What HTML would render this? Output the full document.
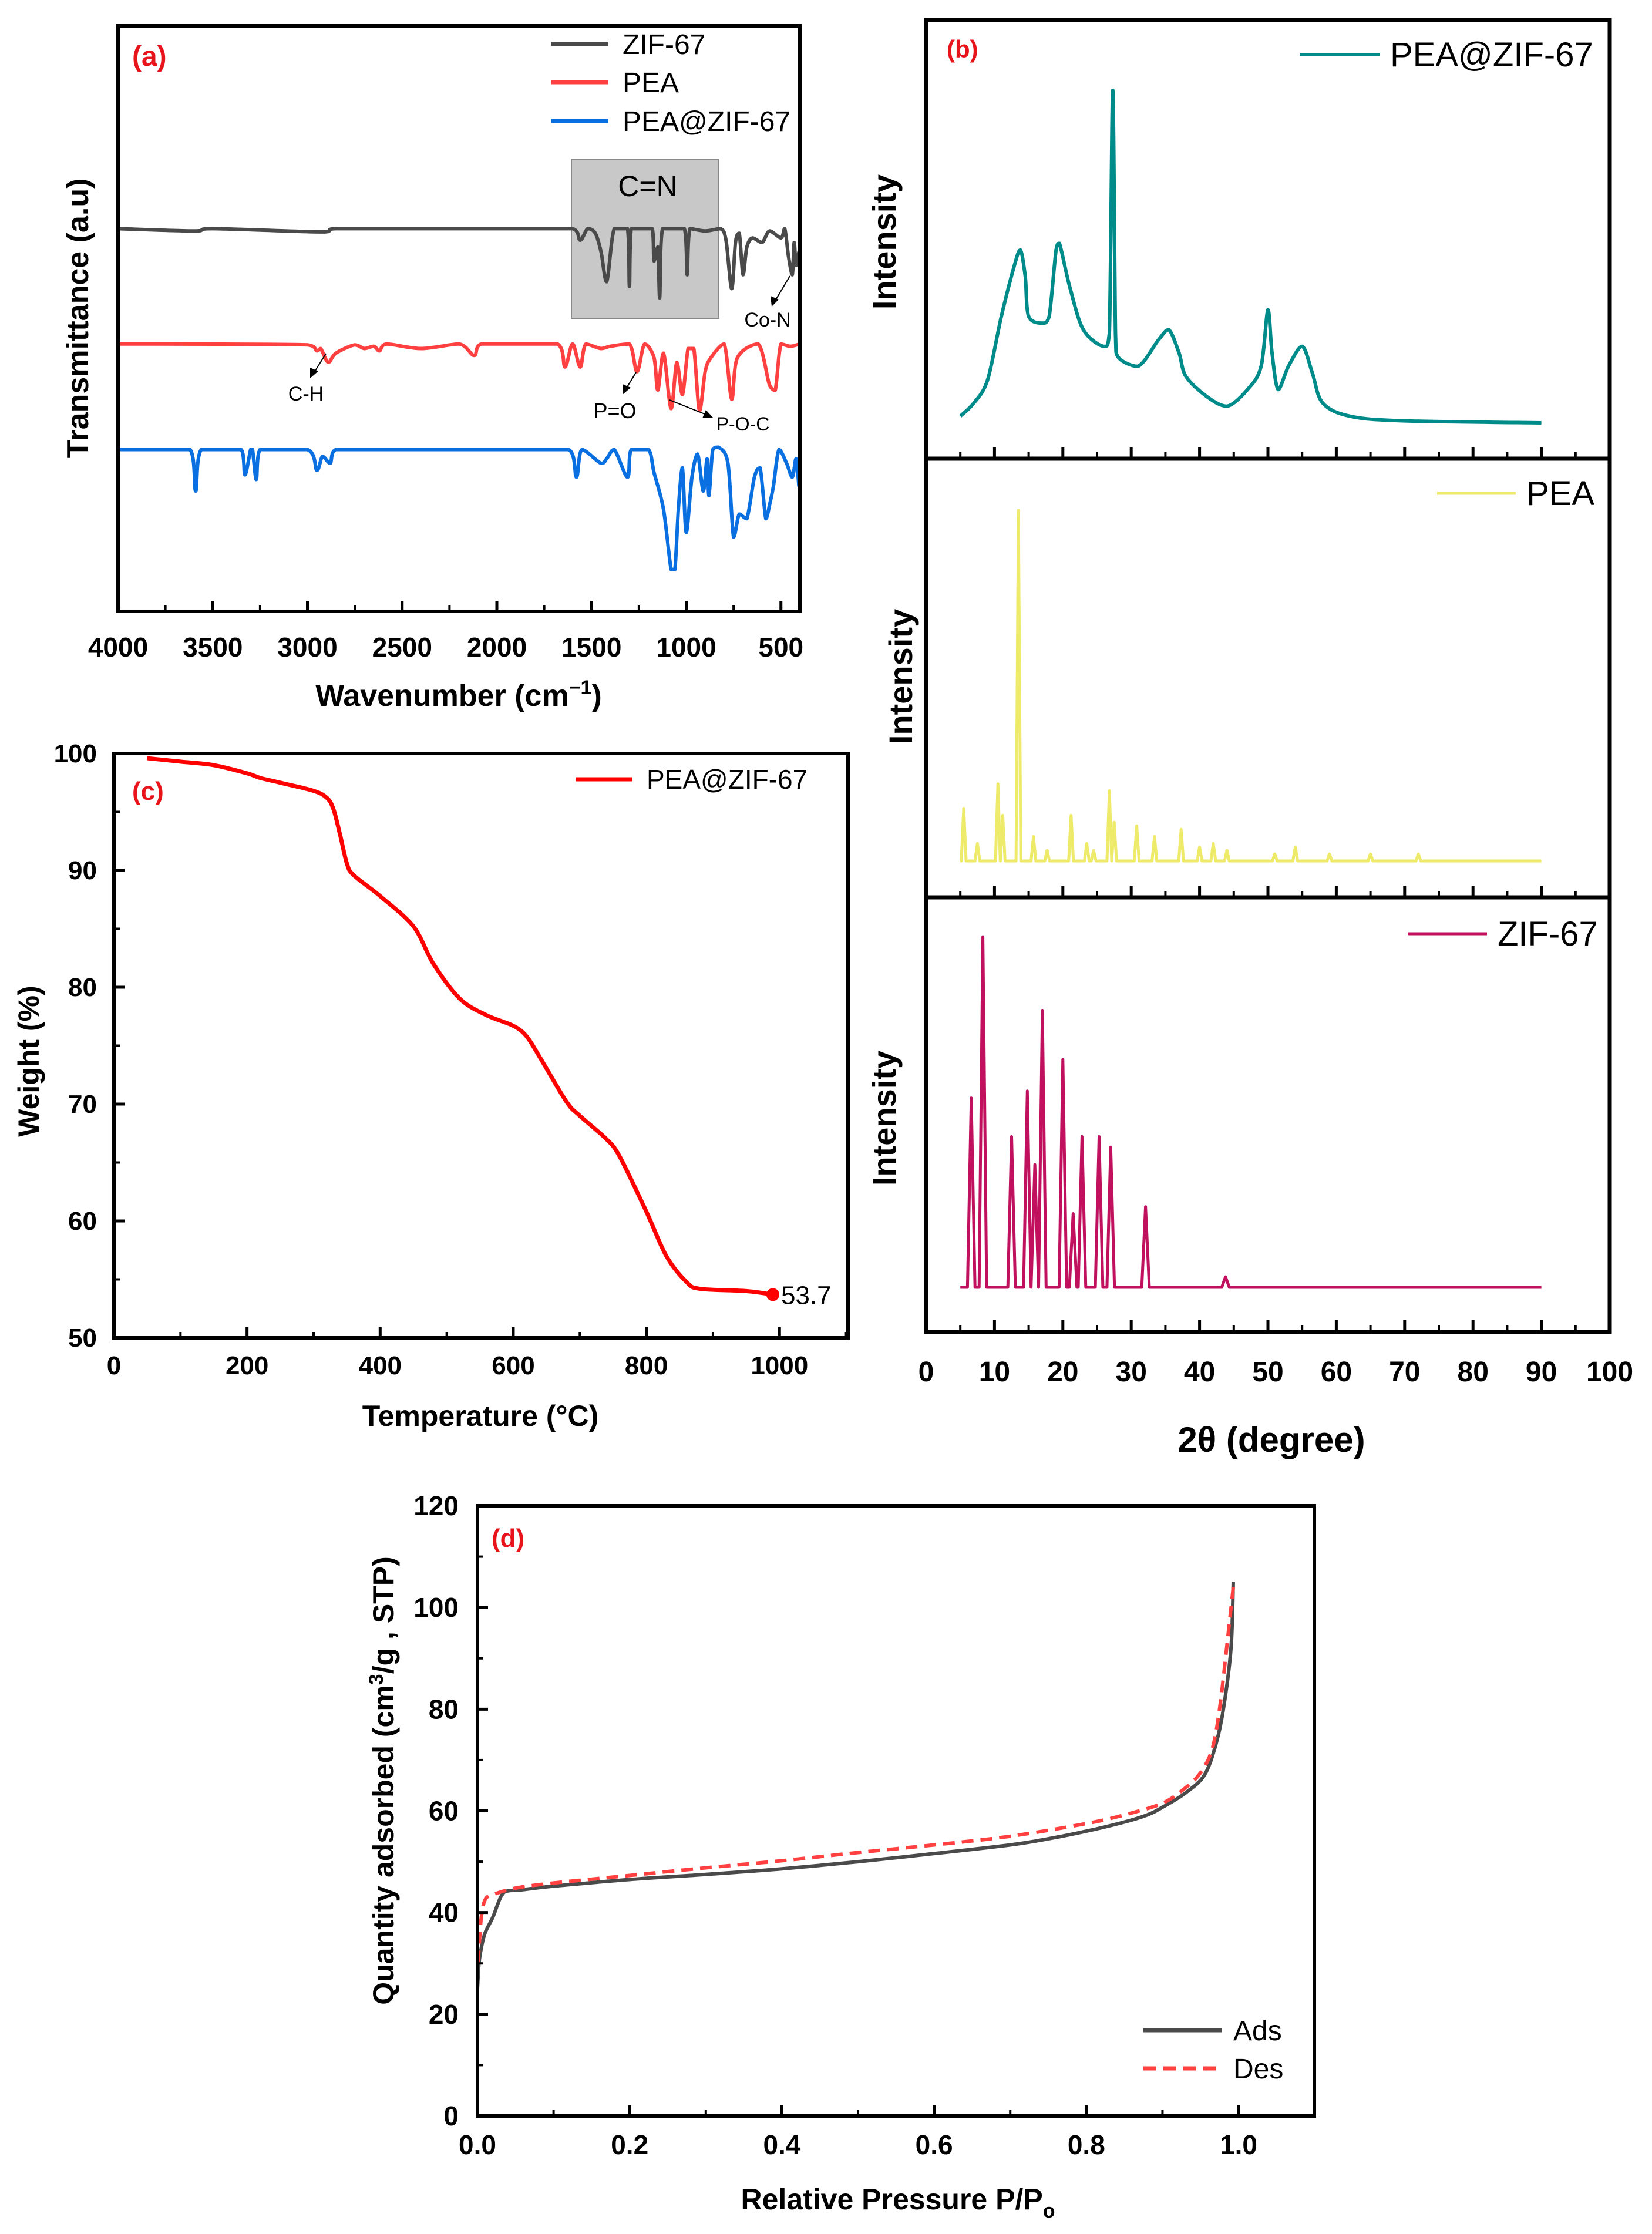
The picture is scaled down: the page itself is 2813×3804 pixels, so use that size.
<!DOCTYPE html>
<html><head><meta charset="utf-8"><style>
html,body{margin:0;padding:0;background:#fff;}
svg{display:block;font-family:"Liberation Sans",Arial,sans-serif;}
.b{font-weight:bold;}
</style></head><body>
<svg id="fig" width="2813" height="3804" viewBox="0 0 2813 3804" xmlns="http://www.w3.org/2000/svg">
<g id="pa">
 <rect x="973" y="271" width="251" height="271" fill="#c8c8c8" stroke="#888" stroke-width="2"/>
 <text x="1103" y="334" font-size="50" text-anchor="middle">C=N</text>
 <g id="pa-curves"></g>
 <rect x="201" y="44" width="1161" height="997" fill="none" stroke="#000" stroke-width="6"/>
 <g id="pa-ticks"></g>
 <text x="225" y="112" font-size="48" fill="#e8141c" class="b">(a)</text>
 <line x1="939" y1="75" x2="1036" y2="75" stroke="#4a4a4a" stroke-width="7"/>
 <text x="1060" y="92" font-size="48">ZIF-67</text>
 <line x1="939" y1="140" x2="1036" y2="140" stroke="#ff4040" stroke-width="7"/>
 <text x="1060" y="157" font-size="48">PEA</text>
 <line x1="939" y1="206" x2="1036" y2="206" stroke="#0a6fe0" stroke-width="7"/>
 <text x="1060" y="223" font-size="48">PEA@ZIF-67</text>
 <text x="1307" y="556" font-size="34" text-anchor="middle">Co-N</text>
 <line x1="1345" y1="470" x2="1320" y2="512" stroke="#000" stroke-width="2"/>
 <polygon points="1314,522 1312,504 1326,510" fill="#000"/>
 <text x="521" y="682" font-size="34" text-anchor="middle">C-H</text>
 <line x1="555" y1="602" x2="535" y2="634" stroke="#000" stroke-width="2"/>
 <polygon points="528,644 528,626 542,632" fill="#000"/>
 <text x="1047" y="712" font-size="36" text-anchor="middle">P=O</text>
 <line x1="1083" y1="634" x2="1066" y2="662" stroke="#000" stroke-width="2"/>
 <polygon points="1060,672 1060,654 1074,660" fill="#000"/>
 <text x="1265" y="733" font-size="32" text-anchor="middle">P-O-C</text>
 <line x1="1140" y1="681" x2="1200" y2="705" stroke="#000" stroke-width="2"/>
 <polygon points="1214,711 1196,712 1202,698" fill="#000"/>
 <text transform="translate(150,542) rotate(-90)" font-size="52" class="b" text-anchor="middle">Transmittance (a.u)</text>
 <text x="781" y="1202" font-size="52" class="b" text-anchor="middle">Wavenumber (cm<tspan dy="-20" font-size="34">−1</tspan><tspan dy="20">)</tspan></text>
</g>
<g id="pb">
 <g id="pb-curves"></g>
 <rect x="1577" y="34" width="1164" height="2234" fill="none" stroke="#000" stroke-width="7"/>
 <line x1="1577" y1="781" x2="2741" y2="781" stroke="#000" stroke-width="7"/>
 <line x1="1577" y1="1528" x2="2741" y2="1528" stroke="#000" stroke-width="7"/>
 <g id="pb-ticks"></g>
 <text x="1612" y="98" font-size="42" fill="#e8141c" class="b">(b)</text>
 <line x1="2213" y1="93" x2="2349" y2="93" stroke="#008b8b" stroke-width="5"/>
 <text x="2367" y="113" font-size="58">PEA@ZIF-67</text>
 <line x1="2447" y1="840" x2="2581" y2="840" stroke="#eeea6a" stroke-width="5"/>
 <text x="2599" y="860" font-size="58">PEA</text>
 <line x1="2398" y1="1590" x2="2532" y2="1590" stroke="#c0105e" stroke-width="5"/>
 <text x="2550" y="1610" font-size="58">ZIF-67</text>
 <text transform="translate(1525,412) rotate(-90)" font-size="56" class="b" text-anchor="middle">Intensity</text>
 <text transform="translate(1553,1152) rotate(-90)" font-size="56" class="b" text-anchor="middle">Intensity</text>
 <text transform="translate(1525,1904) rotate(-90)" font-size="56" class="b" text-anchor="middle">Intensity</text>
 <text x="2165" y="2472" font-size="60" class="b" text-anchor="middle">2θ (degree)</text>
</g>
<g id="pc">
 <g id="pc-curves"></g>
 <rect x="194" y="1283" width="1250" height="995" fill="none" stroke="#000" stroke-width="6"/>
 <g id="pc-ticks"></g>
 <text x="225" y="1362" font-size="44" fill="#e8141c" class="b">(c)</text>
 <line x1="980" y1="1327" x2="1077" y2="1327" stroke="#ff0000" stroke-width="7"/>
 <text x="1101" y="1343" font-size="46">PEA@ZIF-67</text>
 <text transform="translate(66,1807) rotate(-90)" font-size="50" class="b" text-anchor="middle">Weight (%)</text>
 <text x="818" y="2428" font-size="50" class="b" text-anchor="middle">Temperature (°C)</text>
</g>
<g id="pd">
 <g id="pd-curves"></g>
 <rect x="813" y="2564" width="1425" height="1039" fill="none" stroke="#000" stroke-width="6"/>
 <g id="pd-ticks"></g>
 <text x="837" y="2634" font-size="44" fill="#e8141c" class="b">(d)</text>
 <line x1="1947" y1="3457" x2="2080" y2="3457" stroke="#4a4a4a" stroke-width="7"/>
 <text x="2100" y="3474" font-size="48">Ads</text>
 <line x1="1947" y1="3522" x2="2080" y2="3522" stroke="#ff4040" stroke-width="7" stroke-dasharray="22,12"/>
 <text x="2100" y="3539" font-size="48">Des</text>
 <text transform="translate(670,3032) rotate(-90)" font-size="50" class="b" text-anchor="middle">Quantity adsorbed (cm<tspan dy="-18" font-size="34">3</tspan><tspan dy="18">/g , STP)</tspan></text>
 <text x="1529" y="3762" font-size="50" class="b" text-anchor="middle">Relative Pressure P/P<tspan dy="14" font-size="34">o</tspan></text>
</g>
</svg>
<script>
// ---------- Panel (a) FTIR data ----------
const zifWn = [4000,3600,3500,2920,2850,1600,1560,1520,1480,1450,1420,1380,1310,1300,1290,1180,1170,1150,1140,1125,1010,995,980,900,820,790,760,740,720,700,680,650,600,560,500,480,460,440,430,420,405];
const zifT  = [0,-0.05,0,-0.07,0,0,-0.25,0,-0.1,-0.5,-1.15,0,0,-1.25,0,0,-0.7,-0.4,-1.5,0,0,-1.0,0,-0.05,0,-0.25,-1.3,-0.3,-0.1,-1.0,-0.4,-0.2,-0.3,-0.05,-0.2,0,-0.6,-1.0,-0.3,-0.8,-0.5];
const peaWn = [4000,3000,2950,2930,2890,2850,2750,2700,2650,2620,2580,2400,2200,2120,2080,1680,1640,1600,1560,1530,1450,1400,1300,1260,1220,1170,1150,1120,1080,1050,1020,990,960,930,900,870,800,760,730,620,560,530,500,450,400];
const peaT  = [0,-0.02,-0.15,-0.1,-0.4,-0.2,-0.02,-0.1,-0.05,-0.15,0,-0.1,0,-0.25,0,0,-0.5,0,-0.5,0,-0.1,-0.05,0,-0.6,0,-0.3,-1.0,-0.2,-1.4,-0.4,-1.1,-0.1,-0.1,-1.45,-0.6,-0.3,0,-1.2,-0.3,0,-0.9,-1.0,0,-0.05,0];
const compWn = [4000,3620,3590,3560,3350,3330,3300,3290,3270,3250,3000,2950,2920,2880,2850,1620,1580,1550,1450,1420,1380,1310,1290,1200,1170,1120,1080,1060,1040,1020,1000,970,940,910,890,880,860,830,780,750,720,680,640,610,580,560,540,510,470,440,420,405];
const compT  = [0,0,-0.9,0,0,-0.55,0,0,-0.65,0,0,-0.45,-0.15,-0.3,0,0,-0.6,0,-0.3,-0.2,0,-0.6,0,0,-0.5,-1.3,-2.6,-2.6,-1.2,-0.4,-1.8,-0.6,-0.1,-0.9,-0.2,-1.0,0,0.05,-0.3,-1.9,-1.4,-1.5,-0.6,-0.4,-1.5,-1.2,-0.8,0,-0.3,-0.6,-0.2,-0.8];
const ftirOffsets = [0,-2.5,-4.79];
const ftirTicks = [4000,3500,3000,2500,2000,1500,1000,500];

// ---------- Panel (b) XRD data ----------
const xrd1X = [5,7,9,11,13,13.8,14.5,15,17,18,19,19.5,21,23,26,26.8,27.3,27.7,28,31,34,35.5,37,38,41,44,47,49,50,50.6,51.5,53,55,56.5,58,62,70,90];
const xrd1Y = [2,6,13,32,48,52,44,32,30,32,52,54,41,28,23,27,100,27,20,17,25,28,21,14,8,5,10,17,34,21,10,17,23,15,6,2,0.6,0];
const xrd2Peaks = [5.5,7.5,10.5,11.2,13.5,15.7,17.7,21.2,23.5,24.5,26.8,27.5,30.8,33.4,37.3,40,42,44,51,54,59,65,72];
const xrd2Heights = [15,5,22,13,100,7,3,13,5,3,20,11,10,7,9,4,5,3,2,4,2,2,2];
const xrd3Peaks = [6.6,8.3,12.5,14.8,15.9,17.0,20.0,21.5,22.8,25.3,27.0,32.1,43.8];
const xrd3Heights = [54,100,43,56,35,79,65,21,43,43,40,23,3];
const xrdTicks = [0,10,20,30,40,50,60,70,80,90,100];

// ---------- Panel (c) TGA data ----------
const tgaT = [50,100,150,200,220,250,300,320,330,340,350,360,400,450,480,520,560,600,620,640,680,700,740,760,800,830,860,880,950,990];
const tgaW = [99.6,99.3,99,98.3,97.9,97.5,96.8,96.2,95.2,93,90.6,89.6,87.8,85.2,82,79,77.6,76.7,75.8,74,70.2,69,67,65.5,60.8,57,54.8,54.2,54,53.7];
const tgaXTicks = [0,200,400,600,800,1000];
const tgaYTicks = [50,60,70,80,90,100];

// ---------- Panel (d) BET data ----------
const adsP = [0,0.002,0.005,0.01,0.02,0.035,0.06,0.1,0.2,0.3,0.4,0.5,0.6,0.7,0.75,0.8,0.85,0.88,0.9,0.93,0.955,0.97,0.98,0.99,0.993];
const adsQ = [25,30,33,36,39,44,44.5,45.2,46.5,47.5,48.6,50,51.6,53.3,54.5,56,57.8,59.2,60.7,63.5,67,73,80,92,105];
const desP = [0.993,0.985,0.975,0.965,0.95,0.93,0.9,0.85,0.8,0.7,0.6,0.5,0.4,0.3,0.2,0.1,0.05,0.02,0.01,0.005,0.002,0];
const desQ = [104,93,80,72,67.5,64.5,61.5,59.2,57.5,55,53.3,51.8,50.2,48.8,47.3,45.8,44.8,43.5,42.5,39,33,29];
const betXTicks = [0,0.2,0.4,0.6,0.8,1.0];
const betYTicks = [0,20,40,60,80,100,120];

const NS = "http://www.w3.org/2000/svg";
function el(tag, parent){ const e=document.createElementNS(NS,tag); parent.appendChild(e); return e; }
function lin(d0,d1,r0,r1){ return v => r0 + (v-d0)/(d1-d0)*(r1-r0); }
function pathD(xs, ys, fx, fy){ return xs.map((v,i)=>(i?'L':'M')+fx(v).toFixed(1)+' '+fy(ys[i]).toFixed(1)).join(' '); }
function clamp(v,a,b){ const lo=Math.min(a,b), hi=Math.max(a,b); return Math.max(lo,Math.min(hi,v)); }
function smoothD(xs, ys, fx, fy){
 const P = xs.map((v,i)=>[fx(v), fy(ys[i])]);
 let d = 'M'+P[0][0].toFixed(1)+' '+P[0][1].toFixed(1);
 const k = 0.16;
 for (let i=0;i<P.length-1;i++){
  const p0=P[Math.max(0,i-1)], p1=P[i], p2=P[i+1], p3=P[Math.min(P.length-1,i+2)];
  const c1y = clamp(p1[1]+(p2[1]-p0[1])*k, p1[1], p2[1]);
  const c2y = clamp(p2[1]-(p3[1]-p1[1])*k, p1[1], p2[1]);
  const c1x = clamp(p1[0]+(p2[0]-p0[0])*k, p1[0], p2[0]);
  const c2x = clamp(p2[0]-(p3[0]-p1[0])*k, p1[0], p2[0]);
  d += ' C'+c1x.toFixed(1)+' '+c1y.toFixed(1)+' '+c2x.toFixed(1)+' '+c2y.toFixed(1)+' '+p2[0].toFixed(1)+' '+p2[1].toFixed(1);
 }
 return d;
}

// Panel a
(function(){
 const fx = lin(4000,400,201,1362);
 const fy = lin(4.4,-8.3,44,1041);
 const g = document.getElementById('pa-curves');
 const series = [[zifWn,zifT,'#4a4a4a','ftir-zif67-line'],[peaWn,peaT,'#ff4040','ftir-pea-line'],[compWn,compT,'#0a6fe0','ftir-pea-zif67-line']];
 series.forEach((s,k)=>{
  const off = ftirOffsets[k];
  const p = el('path',g);
  p.setAttribute('d', smoothD(s[0], s[1].map(v=>v+off), fx, fy));
  p.setAttribute('fill','none'); p.setAttribute('stroke',s[2]); p.setAttribute('stroke-width','6'); p.setAttribute('stroke-linejoin','round');
  
  
 });
 const t = document.getElementById('pa-ticks');
 ftirTicks.forEach(v=>{
  const l = el('line',t); const x=fx(v);
  l.setAttribute('x1',x); l.setAttribute('x2',x); l.setAttribute('y1',1041); l.setAttribute('y2',1023); l.setAttribute('stroke','#000'); l.setAttribute('stroke-width','5');
  
  
  const m = el('line',t); const xm=fx(v-250);
  if (v-250>=400){ m.setAttribute('x1',xm); m.setAttribute('x2',xm); m.setAttribute('y1',1041); m.setAttribute('y2',1031); m.setAttribute('stroke','#000'); m.setAttribute('stroke-width','4'); }
  
  
  const tx = el('text',t); tx.textContent=v; tx.setAttribute('x',x); tx.setAttribute('y',1118); tx.setAttribute('font-size','46'); tx.setAttribute('font-weight','bold'); tx.setAttribute('text-anchor','middle');
  
  
 });
})();

// Panel b
(function(){
 const fx = lin(0,100,1577,2741);
 const g = document.getElementById('pb-curves');
 const fy1 = lin(0,100,720,154), fy2 = lin(0,100,1466,869), fy3 = lin(0,100,2192,1595);
 const p1 = el('path',g);
 p1.setAttribute('d', smoothD(xrd1X, xrd1Y, fx, fy1));
 p1.setAttribute('fill','none'); p1.setAttribute('stroke','#008b8b'); p1.setAttribute('stroke-width','6'); p1.setAttribute('stroke-linejoin','round');
 
 
 function peakLine(peaks, hts, w, fy){
  const xs=[5], ys=[0];
  peaks.forEach((p,i)=>{ xs.push(p-w, p, p+w); ys.push(0, hts[i], 0); });
  xs.push(90); ys.push(0);
  return pathD(xs, ys, fx, fy);
 }
 const p2 = el('path',g);
 p2.setAttribute('d', peakLine(xrd2Peaks, xrd2Heights, 0.35, fy2));
 p2.setAttribute('fill','none'); p2.setAttribute('stroke','#eeea6a'); p2.setAttribute('stroke-width','5'); p2.setAttribute('stroke-linejoin','round');
 
 
 const p3 = el('path',g);
 p3.setAttribute('d', peakLine(xrd3Peaks, xrd3Heights, 0.55, fy3));
 p3.setAttribute('fill','none'); p3.setAttribute('stroke','#c0105e'); p3.setAttribute('stroke-width','5'); p3.setAttribute('stroke-linejoin','round');
 
 
 const t = document.getElementById('pb-ticks');
 [781,1528,2268].forEach(yb=>{
  xrdTicks.forEach(v=>{
   const x=fx(v);
   const l=el('line',t); l.setAttribute('x1',x); l.setAttribute('x2',x); l.setAttribute('y1',yb); l.setAttribute('y2',yb-20); l.setAttribute('stroke','#000'); l.setAttribute('stroke-width','5');
   
   
   if (v<100){ const m=el('line',t); const xm=fx(v+5); m.setAttribute('x1',xm); m.setAttribute('x2',xm); m.setAttribute('y1',yb); m.setAttribute('y2',yb-11); m.setAttribute('stroke','#000'); m.setAttribute('stroke-width','4');
    
     }
  });
 });
 xrdTicks.forEach(v=>{
  const tx=el('text',t); tx.textContent=v; tx.setAttribute('x',fx(v)); tx.setAttribute('y',2352); tx.setAttribute('font-size','48'); tx.setAttribute('font-weight','bold'); tx.setAttribute('text-anchor','middle');
  
  
 });
})();

// Panel c
(function(){
 const fx = lin(0,1103,194,1444), fy = lin(50,100,2278,1283);
 const g = document.getElementById('pc-curves');
 const p = el('path',g);
 p.setAttribute('d', smoothD(tgaT, tgaW, fx, fy));
 p.setAttribute('fill','none'); p.setAttribute('stroke','#ff0000'); p.setAttribute('stroke-width','7'); p.setAttribute('stroke-linejoin','round');
 
 
 const last = tgaT.length-1;
 const c = el('circle',g); c.setAttribute('cx',fx(tgaT[last])); c.setAttribute('cy',fy(tgaW[last])); c.setAttribute('r','11'); c.setAttribute('fill','#ff0000');
 
 
 const lt = el('text',g); lt.textContent=tgaW[last].toFixed(1); lt.setAttribute('x',fx(tgaT[last])+14); lt.setAttribute('y',fy(tgaW[last])+16); lt.setAttribute('font-size','44');
 
 
 const t = document.getElementById('pc-ticks');
 tgaXTicks.forEach(v=>{
  const x=fx(v);
  const l=el('line',t); l.setAttribute('x1',x); l.setAttribute('x2',x); l.setAttribute('y1',2278); l.setAttribute('y2',2260); l.setAttribute('stroke','#000'); l.setAttribute('stroke-width','5');
  
  
  const m=el('line',t); const xm=fx(v+100); m.setAttribute('x1',xm); m.setAttribute('x2',xm); m.setAttribute('y1',2278); m.setAttribute('y2',2268); m.setAttribute('stroke','#000'); m.setAttribute('stroke-width','4');
  
  
  const tx=el('text',t); tx.textContent=v; tx.setAttribute('x',x); tx.setAttribute('y',2340); tx.setAttribute('font-size','44'); tx.setAttribute('font-weight','bold'); tx.setAttribute('text-anchor','middle');
  
  
 });
 tgaYTicks.forEach(v=>{
  const y=fy(v);
  const l=el('line',t); l.setAttribute('x1',194); l.setAttribute('x2',212); l.setAttribute('y1',y); l.setAttribute('y2',y); l.setAttribute('stroke','#000'); l.setAttribute('stroke-width','5');
  
  
  if (v<100){ const m=el('line',t); const ym=fy(v+5); m.setAttribute('x1',194); m.setAttribute('x2',204); m.setAttribute('y1',ym); m.setAttribute('y2',ym); m.setAttribute('stroke','#000'); m.setAttribute('stroke-width','4');
   
    }
  const tx=el('text',t); tx.textContent=v; tx.setAttribute('x',165); tx.setAttribute('y',y+15); tx.setAttribute('font-size','44'); tx.setAttribute('font-weight','bold'); tx.setAttribute('text-anchor','end');
  
  
 });
})();

// Panel d
(function(){
 const fx = lin(0,1.0995,813,2238), fy = lin(0,120,3603,2564);
 const g = document.getElementById('pd-curves');
 const a = el('path',g);
 a.setAttribute('d', smoothD(adsP, adsQ, fx, fy));
 a.setAttribute('fill','none'); a.setAttribute('stroke','#4a4a4a'); a.setAttribute('stroke-width','6'); a.setAttribute('stroke-linejoin','round');
 
 
 const d = el('path',g);
 d.setAttribute('d', smoothD(desP, desQ, fx, fy));
 d.setAttribute('fill','none'); d.setAttribute('stroke','#ff4040'); d.setAttribute('stroke-width','6'); d.setAttribute('stroke-dasharray','20,12');
 
 
 const t = document.getElementById('pd-ticks');
 betXTicks.forEach(v=>{
  const x=fx(v);
  const l=el('line',t); l.setAttribute('x1',x); l.setAttribute('x2',x); l.setAttribute('y1',3603); l.setAttribute('y2',3585); l.setAttribute('stroke','#000'); l.setAttribute('stroke-width','5');
  
  
  const m=el('line',t); const xm=fx(v+0.1); m.setAttribute('x1',xm); m.setAttribute('x2',xm); m.setAttribute('y1',3603); m.setAttribute('y2',3593); m.setAttribute('stroke','#000'); m.setAttribute('stroke-width','4');
  
  
  const tx=el('text',t); tx.textContent=v.toFixed(1); tx.setAttribute('x',x); tx.setAttribute('y',3668); tx.setAttribute('font-size','46'); tx.setAttribute('font-weight','bold'); tx.setAttribute('text-anchor','middle');
  
  
 });
 betYTicks.forEach(v=>{
  const y=fy(v);
  const l=el('line',t); l.setAttribute('x1',813); l.setAttribute('x2',831); l.setAttribute('y1',y); l.setAttribute('y2',y); l.setAttribute('stroke','#000'); l.setAttribute('stroke-width','5');
  
  
  if (v<120){ const m=el('line',t); const ym=fy(v+10); m.setAttribute('x1',813); m.setAttribute('x2',823); m.setAttribute('y1',ym); m.setAttribute('y2',ym); m.setAttribute('stroke','#000'); m.setAttribute('stroke-width','4');
   
    }
  const tx=el('text',t); tx.textContent=v; tx.setAttribute('x',781); tx.setAttribute('y',y+16); tx.setAttribute('font-size','46'); tx.setAttribute('font-weight','bold'); tx.setAttribute('text-anchor','end');
  
  
 });
})();
</script>
</body></html>
